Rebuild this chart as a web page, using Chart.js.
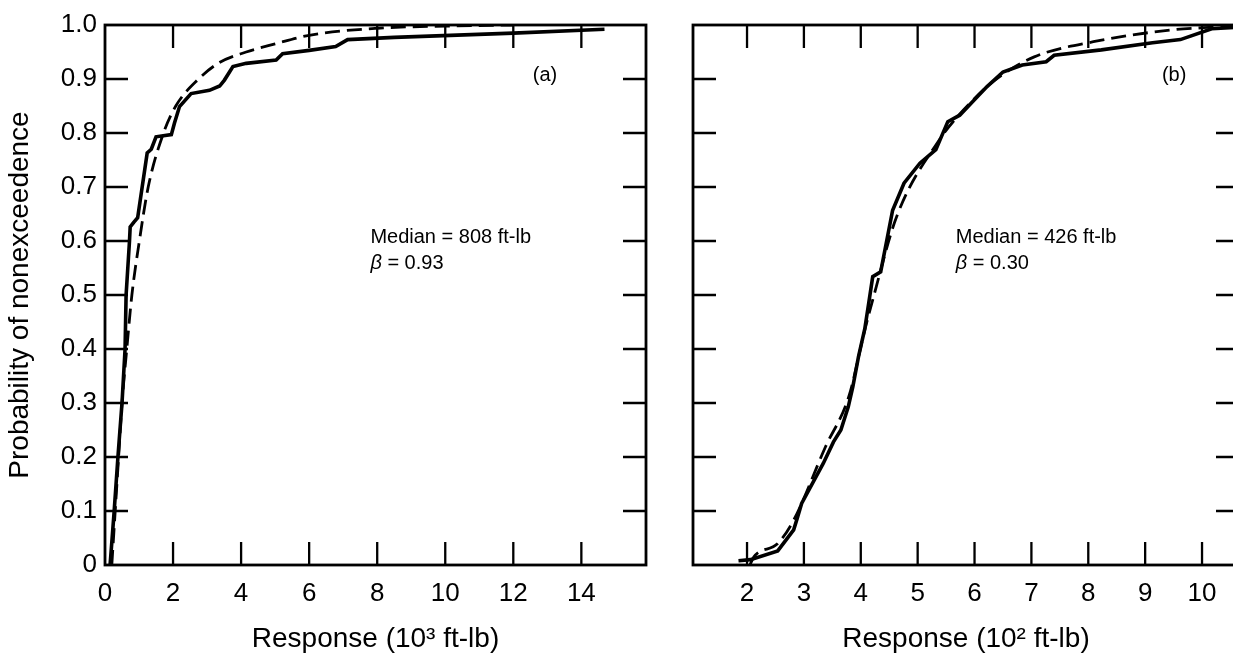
<!DOCTYPE html>
<html>
<head>
<meta charset="utf-8">
<script src="https://cdn.jsdelivr.net/npm/chart.js@4.4.0/dist/chart.umd.min.js"></script>
<style>
  body { margin: 0; background: #fff; overflow: hidden; width: 1233px; height: 656px; position: relative; }
  canvas { position: absolute; top: 0; }
  #chartA { left: 0; }
  #chartB { left: 665px; }
</style>
</head>
<body>
<canvas id="chartA" width="665" height="656"></canvas>
<canvas id="chartB" width="580" height="656"></canvas>
<script>
'use strict';

// panel (a): response in 10^3 ft-lb
const aSolidX = [0.15, 0.27, 0.38, 0.5, 0.59, 0.62, 0.72, 0.74, 0.85, 0.96, 1.24, 1.36, 1.5, 1.95, 2.04, 2.19, 2.53, 3.07, 3.37, 3.51, 3.76, 4.15, 5.03, 5.22, 6.0, 6.78, 7.13, 8.5, 12.0, 14.68];
const aSolidP = [0, 0.1, 0.2, 0.3, 0.4, 0.5, 0.6, 0.626, 0.635, 0.643, 0.763, 0.77, 0.793, 0.797, 0.818, 0.849, 0.873, 0.879, 0.887, 0.898, 0.923, 0.929, 0.935, 0.947, 0.953, 0.96, 0.973, 0.977, 0.985, 0.992];
const aDashX = [0.2, 0.3, 0.4, 0.5, 0.64, 0.79, 1.01, 1.27, 1.72, 2.08, 2.75, 3.35, 4.15, 5.0, 6.0, 8.0, 10.0, 12.0];
const aDashP = [0, 0.1, 0.2, 0.3, 0.4, 0.5, 0.6, 0.7, 0.8, 0.85, 0.9, 0.93, 0.95, 0.965, 0.981, 0.994, 0.998, 1.0];

// panel (b): response in 10^2 ft-lb
const bSolidX = [1.85, 2.06, 2.54, 2.82, 2.89, 2.96, 3.34, 3.52, 3.65, 3.78, 3.86, 3.96, 4.07, 4.14, 4.21, 4.35, 4.56, 4.76, 5.04, 5.32, 5.53, 5.74, 5.94, 6.22, 6.5, 6.84, 7.26, 7.4, 8.23, 9.13, 9.62, 10.17, 10.65];
const bSolidP = [0.008, 0.01, 0.026, 0.065, 0.089, 0.114, 0.188, 0.228, 0.25, 0.293, 0.33, 0.386, 0.437, 0.485, 0.534, 0.543, 0.657, 0.707, 0.744, 0.769, 0.821, 0.833, 0.855, 0.886, 0.913, 0.926, 0.932, 0.944, 0.954, 0.967, 0.973, 0.993, 0.996];
const bDashX = [2.05, 2.12, 2.54, 2.82, 3.38, 3.79, 4.07, 4.21, 4.63, 5.38, 5.81, 6.36, 7.05, 8.09, 9.47, 10.03, 10.65];
const bDashP = [0.0, 0.015, 0.04, 0.083, 0.219, 0.312, 0.435, 0.491, 0.645, 0.787, 0.843, 0.898, 0.941, 0.969, 0.991, 0.995, 0.998];

const yTicks = [0, 0.1, 0.2, 0.3, 0.4, 0.5, 0.6, 0.7, 0.8, 0.9, 1.0];
const yLabels = ['0', '0.1', '0.2', '0.3', '0.4', '0.5', '0.6', '0.7', '0.8', '0.9', '1.0'];
const aXTicks = [0, 2, 4, 6, 8, 10, 12, 14];
const bXTicks = [2, 3, 4, 5, 6, 7, 8, 9, 10];

const FONT = '"Liberation Sans", Arial, Helvetica, sans-serif';

function toPoints(xs, ps) {
  return xs.map((x, i) => ({ x: x, y: ps[i] }));
}

// frame, inward tick marks and the text notes
const framePlugin = {
  id: 'frame',
  afterDraw(chart, args, opts) {
    const ctx = chart.ctx;
    const area = chart.chartArea;
    const xs = chart.scales.x;
    const ys = chart.scales.y;
    const len = 23;
    ctx.save();
    ctx.strokeStyle = '#000';
    ctx.lineWidth = 2.8;
    ctx.strokeRect(area.left, area.top, area.right - area.left, area.bottom - area.top);
    ctx.lineWidth = 2.3;
    ctx.beginPath();
    opts.xMarks.forEach(function(v) {
      if (v <= xs.min) return;
      const px = xs.getPixelForValue(v);
      ctx.moveTo(px, area.bottom);
      ctx.lineTo(px, area.bottom - len);
      ctx.moveTo(px, area.top);
      ctx.lineTo(px, area.top + len);
    });
    yTicks.forEach(function(v) {
      if (v <= 0 || v >= 1) return;
      const py = ys.getPixelForValue(v);
      ctx.moveTo(area.left, py);
      ctx.lineTo(area.left + len, py);
      ctx.moveTo(area.right, py);
      ctx.lineTo(area.right - len, py);
    });
    ctx.stroke();

    ctx.fillStyle = '#000';
    ctx.textBaseline = 'middle';
    ctx.font = '20px ' + FONT;
    ctx.textAlign = 'left';
    const nx = xs.getPixelForValue(opts.noteX);
    ctx.fillText(opts.median, nx, ys.getPixelForValue(0.606));
    ctx.font = 'italic 20px ' + FONT;
    ctx.fillText('\u03b2', nx, ys.getPixelForValue(0.558));
    const bw = ctx.measureText('\u03b2').width;
    ctx.font = '20px ' + FONT;
    ctx.fillText(' = ' + opts.beta, nx + bw, ys.getPixelForValue(0.558));
    ctx.textAlign = 'center';
    ctx.fillText(opts.tag, xs.getPixelForValue(opts.tagX), ys.getPixelForValue(0.907));
    ctx.restore();
  }
};

function lineSets(sx, sp, dx, dp) {
  return [
    {
      label: 'observed',
      data: toPoints(sx, sp),
      borderColor: '#000',
      borderWidth: 3.6,
      pointRadius: 0,
      tension: 0,
      fill: false
    },
    {
      label: 'lognormal',
      data: toPoints(dx, dp),
      borderColor: '#000',
      borderWidth: 2.8,
      borderDash: [15, 7],
      pointRadius: 0,
      cubicInterpolationMode: 'monotone',
      fill: false
    }
  ];
}

function xAxis(min, max, ticks, title) {
  return {
    type: 'linear',
    min: min,
    max: max,
    afterBuildTicks: function(s) { s.ticks = ticks.map(v => ({ value: v })); },
    afterFit: function(s) { s.height = 91; },
    grid: { display: false },
    border: { display: false },
    ticks: {
      color: '#000',
      padding: 5,
      maxRotation: 0,
      autoSkip: false,
      font: { family: FONT, size: 26 },
      callback: v => String(v)
    },
    title: {
      display: true,
      text: title,
      color: '#000',
      font: { family: FONT, size: 28 },
      padding: { top: 0, bottom: 0 }
    }
  };
}

function makeChartA() {
  const ctx = document.getElementById('chartA').getContext('2d');
  return new Chart(ctx, {
    type: 'line',
    data: { datasets: lineSets(aSolidX, aSolidP, aDashX, aDashP) },
    plugins: [framePlugin],
    options: {
      responsive: false,
      animation: false,
      devicePixelRatio: 1,
      layout: { padding: { left: 0, right: 19, top: 25, bottom: 0 } },
      plugins: {
        legend: { display: false },
        tooltip: { enabled: false },
        frame: { xMarks: aXTicks, median: 'Median = 808 ft-lb', beta: '0.93', noteX: 7.8, tag: '(a)', tagX: 12.93 }
      },
      scales: {
        x: xAxis(0, 15.9, aXTicks, 'Response (10\u00b3 ft-lb)'),
        y: {
          type: 'linear',
          min: 0,
          max: 1,
          afterBuildTicks: function(s) { s.ticks = yTicks.map(v => ({ value: v })); },
          afterFit: function(s) { s.width = 105; },
          grid: { display: false },
          border: { display: false },
          ticks: {
            color: '#000',
            padding: 0,
            autoSkip: false,
            font: { family: FONT, size: 26 },
            callback: function(v) { return yLabels[yTicks.indexOf(v)]; }
          },
          title: {
            display: true,
            text: 'Probability of nonexceedence',
            color: '#000',
            font: { family: FONT, size: 28 },
            padding: { top: 3, bottom: 0 }
          }
        }
      }
    }
  });
}

function makeChartB() {
  const ctx = document.getElementById('chartB').getContext('2d');
  return new Chart(ctx, {
    type: 'line',
    data: { datasets: lineSets(bSolidX, bSolidP, bDashX, bDashP) },
    plugins: [framePlugin],
    options: {
      responsive: false,
      animation: false,
      devicePixelRatio: 1,
      layout: { padding: { left: 28, right: 6, top: 25, bottom: 0 } },
      plugins: {
        legend: { display: false },
        tooltip: { enabled: false },
        frame: { xMarks: bXTicks, median: 'Median = 426 ft-lb', beta: '0.30', noteX: 5.67, tag: '(b)', tagX: 9.51 }
      },
      scales: {
        x: xAxis(1.05, 10.65, bXTicks, 'Response (10\u00b2 ft-lb)'),
        y: { type: 'linear', min: 0, max: 1, display: false }
      }
    }
  });
}

function init() {
  makeChartA();
  makeChartB();
}

init();
</script>
</body>
</html>
